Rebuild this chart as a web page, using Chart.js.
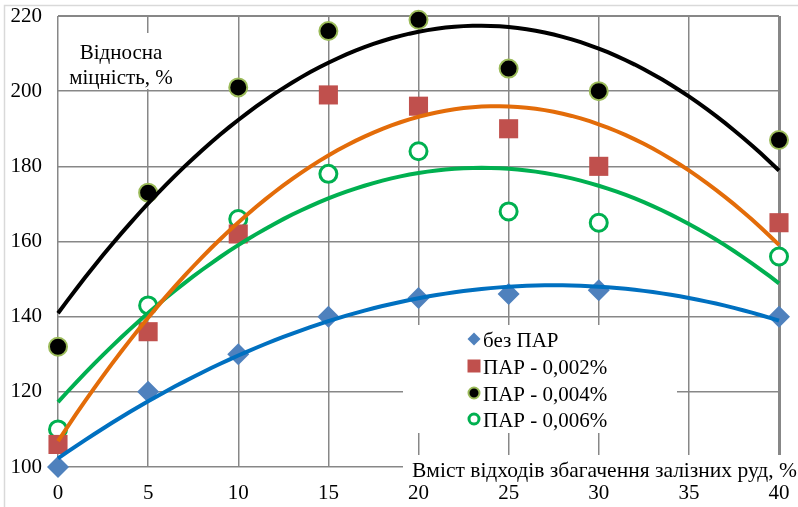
<!DOCTYPE html>
<html>
<head>
<meta charset="utf-8">
<script src="https://cdn.jsdelivr.net/npm/chart.js@4.4.0/dist/chart.umd.min.js"></script>
<style>
  html, body { margin: 0; padding: 0; background: #fff; }
  #wrap { width: 798px; height: 507px; position: relative; }
</style>
</head>
<body>
<div id="wrap"><canvas id="chart" width="798" height="507"></canvas></div>
<script>
// Values
const xValues = [0, 5, 10, 15, 20, 25, 30, 40];
const bezPar = [100, 120, 130, 140, 145, 146, 147, 140];
const par002 = [106, 136, 162, 199, 196, 190, 180, 165];
const par004 = [132, 173, 201, 216, 219, 206, 200, 187];
const par006 = [110, 143, 166, 178, 184, 168, 165, 156];
const seriesNames = ['без ПАР', 'ПАР - 0,002%', 'ПАР - 0,004%', 'ПАР - 0,006%'];
const xTitle = 'Вміст відходів збагачення залізних руд, %';
const yTitle = ['Відносна', 'міцність, %'];

const FONT = '"Liberation Serif", "Times New Roman", serif';

// quadratic least squares trendline (like the Excel polynomial trendline)
function polyFit2(xs, ys) {
    let s = [0, 0, 0, 0, 0], t = [0, 0, 0];
    for (let i = 0; i < xs.length; i++) {
        let p = 1;
        for (let k = 0; k < 5; k++) { s[k] += p; if (k < 3) t[k] += p * ys[i]; p *= xs[i]; }
    }
    // solve 3x3 system
    const m = [
        [s[0], s[1], s[2], t[0]],
        [s[1], s[2], s[3], t[1]],
        [s[2], s[3], s[4], t[2]]
    ];
    for (let c = 0; c < 3; c++) {
        for (let r = c + 1; r < 3; r++) {
            const f = m[r][c] / m[c][c];
            for (let k = c; k < 4; k++) m[r][k] -= f * m[c][k];
        }
    }
    const a = [0, 0, 0];
    for (let r = 2; r >= 0; r--) {
        let v = m[r][3];
        for (let k = r + 1; k < 3; k++) v -= m[r][k] * a[k];
        a[r] = v / m[r][r];
    }
    return a;
}

function trend(ys) {
    const a = polyFit2(xValues, ys);
    const pts = [];
    for (let x = 0; x <= 40; x += 0.5) pts.push({x: x, y: a[0] + a[1] * x + a[2] * x * x});
    return pts;
}

function toPoints(ys) {
    return xValues.map((x, i) => ({x: x, y: ys[i]}));
}

const lineStyle = (pts, color) => ({
    type: 'line', data: pts, borderColor: color, borderWidth: 4,
    pointRadius: 0, fill: false, tension: 0, order: 0, clip: false
});

const markers = [
    {data: bezPar, pointStyle: 'rectRot', radius: 11, bg: '#4F81BD', border: '#4F81BD', bw: 0},
    {data: par002, pointStyle: 'rect', radius: 13.5, bg: '#C0504D', border: '#C0504D', bw: 0},
    {data: par004, pointStyle: 'circle', radius: 9, bg: '#000000', border: '#9BBB59', bw: 2},
    {data: par006, pointStyle: 'circle', radius: 8.5, bg: '#ffffff', border: '#00B050', bw: 3}
];

const datasets = [
    lineStyle(trend(bezPar), '#0070C0'),
    lineStyle(trend(par002), '#E36C09'),
    lineStyle(trend(par004), '#000000'),
    lineStyle(trend(par006), '#00B050')
];
markers.forEach((m, i) => {
    datasets.push({
        type: 'scatter', label: seriesNames[i], data: toPoints(m.data),
        pointStyle: m.pointStyle, pointRadius: m.radius, pointHoverRadius: m.radius,
        backgroundColor: m.bg, borderColor: m.border, pointBorderWidth: m.bw,
        order: 1, clip: false
    });
});

function drawMarker(ctx, style, x, y, r, bg, border, bw) {
    ctx.save();
    ctx.fillStyle = bg;
    ctx.strokeStyle = border;
    ctx.lineWidth = bw;
    ctx.beginPath();
    if (style === 'rectRot') {
        ctx.moveTo(x, y - r); ctx.lineTo(x + r, y); ctx.lineTo(x, y + r); ctx.lineTo(x - r, y); ctx.closePath();
    } else if (style === 'rect') {
        ctx.rect(x - r, y - r, 2 * r, 2 * r);
    } else {
        ctx.arc(x, y, r, 0, Math.PI * 2);
    }
    ctx.fill();
    if (bw > 0) ctx.stroke();
    ctx.restore();
}

const overlays = {
    id: 'overlays',
    beforeDatasetsDraw(chart) {
        const ctx = chart.ctx;
        ctx.save();
        ctx.fillStyle = '#ffffff';
        // y title box, legend box, x title box
        ctx.fillRect(65, 33, 118, 56);
        ctx.fillRect(403, 325, 274, 108);
        ctx.fillRect(403, 455, 395, 26);

        ctx.fillStyle = '#000000';
        ctx.font = '21px ' + FONT;
        ctx.textAlign = 'center';
        ctx.textBaseline = 'middle';
        ctx.fillText(yTitle[0], 121, 53);
        ctx.fillText(yTitle[1], 121, 78);

        ctx.font = '21.5px ' + FONT;
        ctx.textAlign = 'left';
        ctx.fillText(xTitle, 412, 471);

        // legend
        ctx.font = '21px ' + FONT;
        const rows = [339, 366, 393, 419];
        const legendMarks = [
            ['rectRot', 6.5, '#4F81BD', '#4F81BD', 0],
            ['rect', 6.5, '#C0504D', '#C0504D', 0],
            ['circle', 5.5, '#000000', '#9BBB59', 2],
            ['circle', 5, '#ffffff', '#00B050', 3]
        ];
        rows.forEach((y, i) => {
            const m = legendMarks[i];
            drawMarker(ctx, m[0], 474, y, m[1], m[2], m[3], m[4]);
            ctx.fillStyle = '#000000';
            ctx.fillText(seriesNames[i], 483, y + 2);
        });
        ctx.restore();
    },
    afterDraw(chart) {
        const ctx = chart.ctx;
        ctx.save();
        ctx.strokeStyle = '#d9d9d9';
        ctx.lineWidth = 1.5;
        ctx.beginPath();
        ctx.moveTo(4.5, 507);
        ctx.lineTo(4.5, 5.5);
        ctx.lineTo(798, 5.5);
        ctx.stroke();
        ctx.restore();
    }
};

new Chart(document.getElementById('chart'), {
    type: 'scatter',
    data: {datasets: datasets},
    options: {
        responsive: false,
        animation: false,
        layout: {padding: {left: 0, right: 19, top: 16, bottom: 0}},
        plugins: {legend: {display: false}, tooltip: {enabled: false}},
        scales: {
            x: {
                type: 'linear', min: 0, max: 40,
                ticks: {stepSize: 5, color: '#000', font: {family: FONT, size: 21}, padding: 14, maxRotation: 0},
                grid: {
                    color: '#878787',
                    lineWidth: c => (c.tick && c.tick.value === 40 ? 3 : 1.5),
                    drawTicks: false
                },
                border: {display: false},
                afterFit: s => { s.height = 40; s.paddingLeft = 0; s.paddingRight = 0; }
            },
            y: {
                type: 'linear', min: 100, max: 220,
                ticks: {stepSize: 20, color: '#000', font: {family: FONT, size: 21}, padding: 16},
                grid: {
                    color: '#878787',
                    lineWidth: c => (c.tick && c.tick.value === 220 ? 2 : 1.5),
                    drawTicks: false
                },
                border: {display: false},
                afterFit: s => { s.width = 58; s.paddingTop = 0; s.paddingBottom = 0; }
            }
        }
    },
    plugins: [overlays]
});
</script>
</body>
</html>
